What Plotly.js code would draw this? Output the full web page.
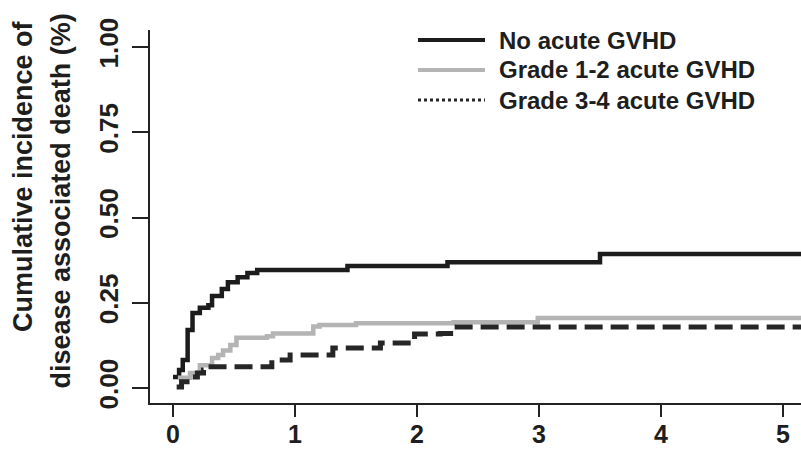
<!DOCTYPE html>
<html>
<head>
<meta charset="utf-8">
<script src="https://cdn.plot.ly/plotly-3.0.1.min.js"></script>
<style>html,body{margin:0;padding:0;background:#fff;}#chart{width:801px;height:451px;}</style>
</head>
<body>
<div id="chart"></div>
<script>
// ---- data ----
const seriesNames = ["No acute GVHD", "Grade 1-2 acute GVHD", "Grade 3-4 acute GVHD"];
const noX  = [0, 0.05, 0.08, 0.12, 0.16, 0.22, 0.29, 0.32, 0.40, 0.45, 0.53, 0.61, 0.69, 1.43, 2.25, 3.5, 5.2];
const noY  = [0.032, 0.053, 0.082, 0.17, 0.22, 0.235, 0.243, 0.27, 0.29, 0.31, 0.325, 0.337, 0.346, 0.358, 0.369, 0.393, 0.393];
const g12X = [0.04, 0.14, 0.22, 0.32, 0.37, 0.41, 0.47, 0.52, 0.77, 0.82, 1.15, 1.2, 1.5, 2.3, 2.99, 5.2];
const g12Y = [0.03, 0.044, 0.067, 0.088, 0.097, 0.11, 0.126, 0.147, 0.152, 0.16, 0.18, 0.185, 0.19, 0.193, 0.205, 0.205];
const g34X = [0.03, 0.07, 0.14, 0.2, 0.25, 0.29, 0.81, 0.96, 1.31, 1.7, 1.98, 2.19, 2.3, 5.2];
const g34Y = [0.003, 0.018, 0.032, 0.044, 0.053, 0.062, 0.082, 0.097, 0.117, 0.132, 0.158, 0.16, 0.179, 0.179];
const xTicks = [0, 1, 2, 3, 4, 5];
const yTicks = [0, 0.25, 0.5, 0.75, 1];
const yTickText = ["0.00", "0.25", "0.50", "0.75", "1.00"];
const yTitleLines = ["Cumulative incidence of", "disease associated death (%)"];

// ---- layout helpers ----
const W = 801, H = 451;
const M = {l: 150, r: 0, t: 30, b: 48};
const pw = W - M.l - M.r, ph = H - M.t - M.b;
const px = x => (x - M.l) / pw;
const py = y => (H - M.b - y) / ph;
const FONT = "Liberation Sans, Arial, sans-serif";
const TXT = "#1e1e1e";

const traces = [
  {x: noX, y: noY, name: seriesNames[0], mode: "lines", line: {shape: "hv", color: "#1c1c1c", width: 4.5}, showlegend: false},
  {x: g12X, y: g12Y, name: seriesNames[1], mode: "lines", line: {shape: "hv", color: "#b4b4b4", width: 4.5}, showlegend: false},
  {x: g34X, y: g34Y, name: seriesNames[2], mode: "lines", line: {shape: "hv", color: "#262626", width: 5, dash: "18px,8px"}, showlegend: false}
];

const legStyles = [
  {color: "#1c1c1c", width: 4, dash: "solid"},
  {color: "#b4b4b4", width: 4, dash: "solid"},
  {color: "#262626", width: 3, dash: "dot"}
];
const legRowsY = [40, 70, 100];
const shapes = [], annotations = [];
seriesNames.forEach((n, i) => {
  shapes.push({type: "line", xref: "paper", yref: "paper", x0: px(418), x1: px(485), y0: py(legRowsY[i]), y1: py(legRowsY[i]), line: legStyles[i]});
  annotations.push({xref: "paper", yref: "paper", x: px(497), y: py(legRowsY[i]), xanchor: "left", yanchor: "middle", showarrow: false, text: n, font: {family: FONT, size: 24, weight: "bold", color: TXT}});
});
const yTitleX = [23, 60];
const yTitleTop = [18, 12];
yTitleLines.forEach((t, i) => {
  annotations.push({xref: "paper", yref: "paper", x: px(yTitleX[i]), y: py(yTitleTop[i]), xanchor: "center", yanchor: "top", textangle: -90, showarrow: false, text: t, font: {family: FONT, size: 27, weight: "bold", color: TXT}});
});

const layout = {
  width: W, height: H,
  margin: M,
  paper_bgcolor: "#fff", plot_bgcolor: "#fff",
  showlegend: false,
  xaxis: {range: [(M.l - 173) / 122, (W - 173) / 122], tickvals: xTicks, ticks: "outside", ticklen: 12, tickwidth: 2, tickcolor: "#222",
          showline: true, linewidth: 2, linecolor: "#222", showgrid: false, zeroline: false, ticklabelstandoff: -4,
          tickfont: {family: FONT, size: 25, weight: "bold", color: TXT}},
  yaxis: {range: [-(H - M.b - 388) / 341, (388 - M.t) / 341], tickvals: yTicks, ticktext: yTickText, tickangle: -90, ticks: "outside", ticklen: 16, tickwidth: 2, tickcolor: "#222",
          showline: true, linewidth: 2, linecolor: "#222", showgrid: false, zeroline: false, ticklabelstandoff: 4,
          tickfont: {family: FONT, size: 26, weight: "bold", color: TXT}},
  shapes: shapes,
  annotations: annotations
};
Plotly.newPlot("chart", traces, layout, {staticPlot: true, displayModeBar: false});
</script>
</body>
</html>
